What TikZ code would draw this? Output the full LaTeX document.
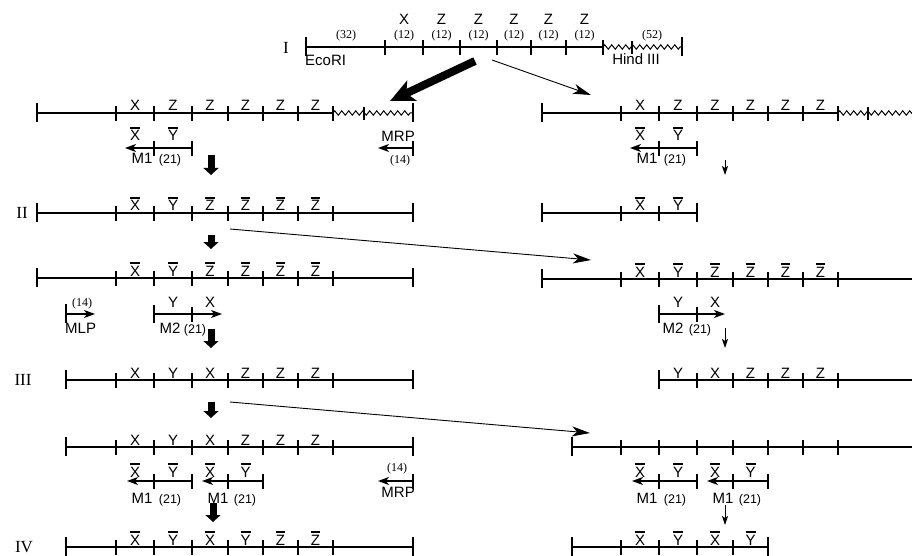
\documentclass[tikz,border=0pt]{standalone}
\usepackage{fontspec}
\setmainfont{Liberation Serif}
\setsansfont{Liberation Sans}
\usetikzlibrary{arrows.meta,decorations.pathmorphing}
\newcommand{\ovl}[1]{\setbox0\hbox{#1}\vbox{\hrule height1.5pt width\wd0\kern2pt\box0}}
\newcommand{\dnaticks}[2]{\foreach \x in {#2}{\draw[dna] (\x,#1-7) -- (\x,#1+8);}}
\newcommand{\dnaends}[2]{\foreach \x in {#2}{\draw[dna] (\x,#1-10) -- (\x,#1+9);}}

\begin{document}
\begin{tikzpicture}[x=1pt,y=-1pt,
  dna/.style={line width=1.6pt},
  wavy/.style={line width=1pt, decorate,
               decoration={zigzag, amplitude=2.2pt, segment length=7pt}},
  seg/.style={font=\sffamily\fontsize{15}{15}\selectfont, anchor=base, inner sep=0pt},
  len/.style={font=\fontsize{12}{12}\selectfont, anchor=base, inner sep=0pt},
  len21/.style={font=\sffamily\fontsize{12.5}{12.5}\selectfont, anchor=base, inner sep=0pt},
  stage/.style={font=\fontsize{17}{17}\selectfont, inner sep=0pt},
  primer/.style={line width=1.4pt, -{Stealth[length=11pt,width=8pt,inset=3pt]}},
  big/.style={line width=8pt, -{Stealth[length=24pt,width=22pt,inset=6pt]}},
  fatdown/.style={line width=7pt, -{Triangle[length=7pt,width=15pt]}},
  longarrow/.style={line width=0.9pt, -{Stealth[length=18pt,width=10pt,inset=5pt]}},
  smalldown/.style={line width=0.9pt, -{Stealth[length=9pt,width=6pt,inset=2pt]}},
]
\clip (0,0) rectangle (912,556);

% stage I
\draw[dna] (306,47) -- (603,47);
\draw[wavy] (603,47) -- (682,47);
\dnaends{47}{306,682}
\dnaticks{47}{385,423,460,497,531,566,603}
\draw[dna] (632,41) -- (632,54);
\node[stage] (stI) at (286,48) {I};
\foreach \x/\t [count=\i] in {404/X,441.5/Z,478.5/Z,514/Z,548.5/Z,584.5/Z}{
  \node[seg] (gI\i) at (\x,25) {\t};
  \node[len] (nI\i) at (\x,39) {(12)};
}
\node[len] (n32) at (346,39) {(32)};
\node[len] (n52) at (652,39) {(52)};
\node[seg, anchor=base west] (eco) at (305,66) {EcoRI};
\node[seg] (hind) at (636,65) {Hind III};

\coordinate (bigA) at (475,61);
\coordinate (bigB) at (390,101);
\coordinate (thA) at (492,60);
\coordinate (thB) at (591,95);
\draw[big] (bigA) -- (bigB);
\draw[longarrow] (thA) -- (thB);

% row 1, left
\draw[dna] (37,113) -- (333,113);
\draw[wavy] (333,113) -- (413,113);
\dnaends{113}{37,413}
\dnaticks{113}{116,154,192,228,263,298,333}
\draw[dna] (364,107) -- (364,120);
\foreach \x/\t [count=\i] in {135/X,173/Z,210/Z,245.5/Z,280.5/Z,315.5/Z}
  \node[seg] (gA\i) at (\x,111) {\t};
\node[seg] (ax1) at (135,141) {\ovl{X}};
\node[seg] (ay1) at (173,141) {\ovl{Y}};
\draw[primer] (192,148) -- (125,148);
\dnaticks{148}{154,192}
\node[seg] (am1) at (142,164) {M1};
\node[len21] (an1) at (170,164) {(21)};
\draw[primer] (413,148) -- (378,148);
\dnaticks{148}{413}
\node[seg, anchor=base east] (mrpA) at (415,142) {MRP};
\node[len] (n14A) at (400,164) {(14)};

% row 1, right
\draw[dna] (542,113) -- (838,113);
\draw[wavy] (838,113) -- (918,113);
\dnaends{113}{542}
\dnaticks{113}{621,659,697,733,768,803,838}
\draw[dna] (868,107) -- (868,120);
\foreach \x/\t [count=\i] in {640/X,678/Z,715/Z,750.5/Z,785.5/Z,820.5/Z}
  \node[seg] (gB\i) at (\x,111) {\t};
\node[seg] (bx1) at (640,141) {\ovl{X}};
\node[seg] (by1) at (678,141) {\ovl{Y}};
\draw[primer] (697,148) -- (630,148);
\dnaticks{148}{659,697}
\node[seg] (bm1) at (647,164) {M1};
\node[len21] (bn1) at (675,164) {(21)};

\coordinate (dA1) at (211,155);
\coordinate (dA2) at (211,175);
\coordinate (dB1) at (725,160);
\coordinate (dB2) at (725,175);
\draw[fatdown] (dA1) -- (dA2);
\draw[smalldown] (dB1) -- (dB2);

% stage II
\draw[dna] (37,213) -- (413,213);
\dnaends{213}{37,413}
\dnaticks{213}{116,154,192,228,263,298,333}
\node[stage] (stII) at (22,213) {II};
\foreach \x/\t [count=\i] in {135/X,173/Y,210/Z,245.5/Z,280.5/Z,315.5/Z}
  \node[seg] (gC\i) at (\x,211) {\ovl{\t}};
\draw[dna] (542,213) -- (697,213);
\dnaends{213}{542,697}
\dnaticks{213}{621,659}
\node[seg] (gD1) at (640,211) {\ovl{X}};
\node[seg] (gD2) at (678,211) {\ovl{Y}};

\coordinate (dC1) at (211,235);
\coordinate (dC2) at (211,249);
\coordinate (lgA) at (230,229);
\coordinate (lgB) at (591,260);
\draw[fatdown] (dC1) -- (dC2);
\draw[longarrow] (lgA) -- (lgB);

% row 3
\draw[dna] (37,278) -- (413,278);
\dnaends{278}{37,413}
\dnaticks{278}{116,154,192,228,263,298,333}
\foreach \x/\t [count=\i] in {135/X,173/Y,210/Z,245.5/Z,280.5/Z,315.5/Z}
  \node[seg] (gE\i) at (\x,276) {\ovl{\t}};
\draw[dna] (542,279) -- (918,279);
\dnaends{279}{542}
\dnaticks{279}{621,659,697,733,768,803,838}
\foreach \x/\t [count=\i] in {640/X,678/Y,715/Z,750.5/Z,785.5/Z,820.5/Z}
  \node[seg] (gF\i) at (\x,277) {\ovl{\t}};

\draw[primer] (66,314) -- (95,314);
\draw[dna] (66,304) -- (66,323);
\node[len] (n14B) at (82,306) {(14)};
\node[seg, anchor=base west] (mlp) at (65,333) {MLP};
\draw[primer] (154,314) -- (222,314);
\draw[dna] (154,305) -- (154,323);
\dnaticks{314}{192}
\node[seg] (cy) at (173,307) {Y};
\node[seg] (cx) at (210,307) {X};
\node[seg] (cm2) at (170,333) {M2};
\node[len21] (cn2) at (195,333) {(21)};
\draw[primer] (659,314) -- (725,314);
\draw[dna] (659,305) -- (659,323);
\dnaticks{314}{697}
\node[seg] (dy) at (678,307) {Y};
\node[seg] (dx) at (715,307) {X};
\node[seg] (dm2) at (673,333) {M2};
\node[len21] (dn2) at (700,333) {(21)};

\coordinate (dE1) at (211,329);
\coordinate (dE2) at (211,348);
\coordinate (dF1) at (725,328);
\coordinate (dF2) at (725,348);
\draw[fatdown] (dE1) -- (dE2);
\draw[smalldown] (dF1) -- (dF2);

% stage III
\draw[dna] (66,380) -- (413,380);
\dnaends{380}{66,413}
\dnaticks{380}{116,154,192,228,263,298,333}
\node[stage] (stIII) at (23,380) {III};
\foreach \x/\t [count=\i] in {135/X,173/Y,210/X,245.5/Z,280.5/Z,315.5/Z}
  \node[seg] (gG\i) at (\x,378) {\t};
\draw[dna] (659,380) -- (918,380);
\dnaends{380}{659}
\dnaticks{380}{697,733,768,803,838}
\foreach \x/\t [count=\i] in {678/Y,715/X,750.5/Z,785.5/Z,820.5/Z}
  \node[seg] (gH\i) at (\x,378) {\t};

\coordinate (dG1) at (211,402);
\coordinate (dG2) at (211,418);
\coordinate (lgC) at (230,402);
\coordinate (lgD) at (590,433);
\draw[fatdown] (dG1) -- (dG2);
\draw[longarrow] (lgC) -- (lgD);

% row 4
\draw[dna] (66,447) -- (413,447);
\dnaends{447}{66,413}
\dnaticks{447}{116,154,192,228,263,298,333}
\foreach \x/\t [count=\i] in {135/X,173/Y,210/X,245.5/Z,280.5/Z,315.5/Z}
  \node[seg] (gJ\i) at (\x,445) {\t};
\foreach \x/\t [count=\i] in {135/X,173/Y,210/X,245.5/Y}
  \node[seg] (pJ\i) at (\x,477) {\ovl{\t}};
\draw[primer] (192,481) -- (127,481);
\draw[primer] (263,481) -- (202,481);
\dnaticks{481}{154,192,228,263}
\node[seg] (jm1) at (142,503) {M1};
\node[len21] (jn1) at (170,503) {(21)};
\node[seg] (jm2) at (218,503) {M1};
\node[len21] (jn2) at (245,503) {(21)};
\draw[primer] (413,481) -- (378,481);
\dnaticks{481}{413}
\node[len] (n14C) at (397,471) {(14)};
\node[seg, anchor=base east] (mrpB) at (415,497) {MRP};

\draw[dna] (572,447) -- (918,447);
\dnaends{447}{572}
\dnaticks{447}{621,659,697,733,768,803,838}
\foreach \x/\t [count=\i] in {640/X,678/Y,715/X,750.5/Y}
  \node[seg] (pK\i) at (\x,477) {\ovl{\t}};
\draw[primer] (697,481) -- (632,481);
\draw[primer] (768,481) -- (707,481);
\dnaticks{481}{659,697,733,768}
\node[seg] (km1) at (647,503) {M1};
\node[len21] (kn1) at (675,503) {(21)};
\node[seg] (km2) at (723,503) {M1};
\node[len21] (kn2) at (750,503) {(21)};

\coordinate (dJ1) at (213,503);
\coordinate (dJ2) at (213,522);
\coordinate (dK1) at (725,505);
\coordinate (dK2) at (725,525);
\draw[fatdown] (dJ1) -- (dJ2);
\draw[smalldown] (dK1) -- (dK2);

% stage IV
\draw[dna] (66,547) -- (413,547);
\dnaends{547}{66,413}
\dnaticks{547}{116,154,192,228,263,298,333}
\node[stage] (stIV) at (24,547) {IV};
\foreach \x/\t [count=\i] in {135/X,173/Y,210/X,245.5/Y,280.5/Z,315.5/Z}
  \node[seg] (gL\i) at (\x,545) {\ovl{\t}};
\draw[dna] (572,547) -- (768,547);
\dnaends{547}{572,768}
\dnaticks{547}{621,659,697,733}
\foreach \x/\t [count=\i] in {640/X,678/Y,715/X,750.5/Y}
  \node[seg] (gM\i) at (\x,545) {\ovl{\t}};

\end{tikzpicture}
\end{document}
